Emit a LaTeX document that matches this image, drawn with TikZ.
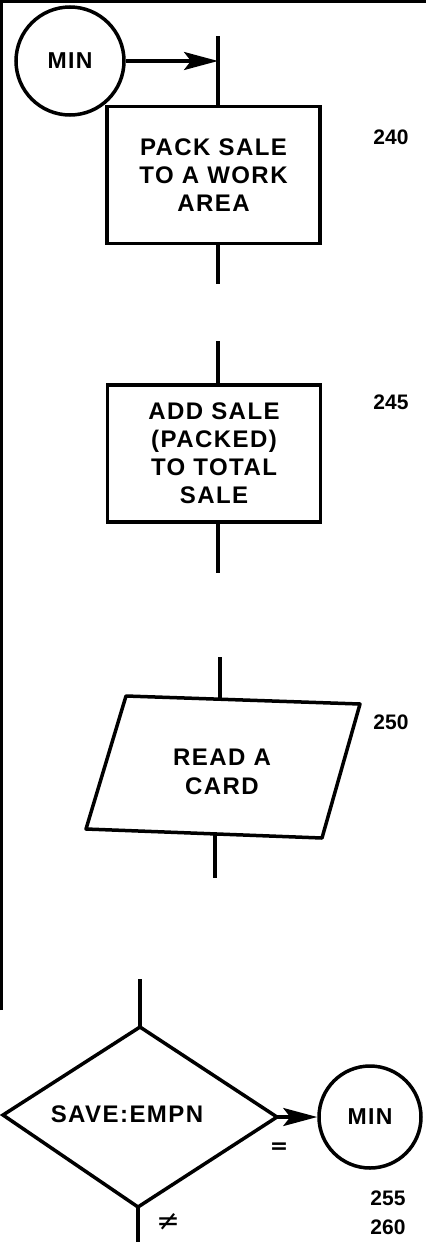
\documentclass[tikz,border=0pt]{standalone}
\usepackage{fontspec}
\setmainfont{Liberation Sans}
\newfontfamily\boxfont{Liberation Sans}[LetterSpace=6]
\newfontfamily\numfont{Liberation Sans}
\newfontfamily\symfont{DejaVu Sans}
\usetikzlibrary{arrows.meta}
\tikzset{
  flow/.style={line width=3.5pt, line cap=butt},
  procbox/.style={draw, line width=3.5pt, minimum width=213pt, minimum height=137pt, align=center, font=\boxfont\bfseries\fontsize{24}{28}\selectfont, inner sep=0pt},
  conn/.style={draw, circle, line width=3.5pt, inner sep=0pt, font=\boxfont\bfseries\fontsize{23}{24}\selectfont},
  txt/.style={align=center, font=\boxfont\bfseries\fontsize{24}{29}\selectfont, inner sep=0pt},
  num/.style={font=\numfont\bfseries\fontsize{21}{24}\selectfont, inner sep=0pt},
  sym/.style={font=\symfont\bfseries\fontsize{22}{24}\selectfont, inner sep=0pt},
  nesym/.style={font=\symfont\fontsize{28}{30}\selectfont, inner sep=0pt},
  arr/.style={line width=3.5pt, -{Stealth[length=34pt,width=18pt,inset=7pt]}},
}
\begin{document}
\begin{tikzpicture}[x=1pt,y=-1pt]
\useasboundingbox (0,0) rectangle (426,1242);
% frame
\draw[line width=3pt] (1.5,1010) -- (1.5,1.5) -- (426,1.5);
% entry connector
\node[conn, minimum size=108pt] (min1) at (70,61) {MIN};
\coordinate (s1a) at (218,36);
\coordinate (j1) at (218,61);
% box 1
\node[procbox] (box1) at (213.5,175) {PACK SALE\\TO A WORK\\AREA};
\coordinate (s1b) at (218,284);
\draw[flow] (s1a) -- (s1a |- box1.north);
\draw[arr] (min1.east) -- (j1);
\draw[flow] (s1b |- box1.south) -- (s1b);
\node[num] (n240) at (391,137) {240};
% box 2
\node[procbox] (box2) at (214,453.5) {ADD SALE\\(PACKED)\\TO TOTAL\\SALE};
\coordinate (s2a) at (218,341);
\coordinate (s2b) at (218,573);
\draw[flow] (s2a) -- (s2a |- box2.north);
\draw[flow] (s2b |- box2.south) -- (s2b);
\node[num] (n245) at (391,402) {245};
% parallelogram
\coordinate (pTL) at (126,696);
\coordinate (pTR) at (360,704);
\coordinate (pBR) at (322,838);
\coordinate (pBL) at (86,829);
\draw[line width=3.5pt, line join=round] (pTL) -- (pTR) -- (pBR) -- (pBL) -- cycle;
\node[txt] (read) at (222,772) {READ A\\CARD};
\coordinate (s3a) at (220,657);
\coordinate (s3at) at (220,700);
\coordinate (s3bt) at (215,834);
\coordinate (s3b) at (215,878);
\draw[flow] (s3a) -- (s3at);
\draw[flow] (s3bt) -- (s3b);
\node[num] (n250) at (391,722) {250};
% diamond
\coordinate (dT) at (140,1027);
\coordinate (dL) at (3,1115);
\coordinate (dR) at (277,1117);
\coordinate (dB) at (138,1207);
\draw[line width=3.5pt, line join=miter] (dT) -- (dR) -- (dB) -- (dL) -- cycle;
\node[txt] (save) at (127,1114) {SAVE:EMPN};
\coordinate (s4a) at (140,979);
\coordinate (s4b) at (138,1242);
\draw[flow] (s4a) -- (dT);
\draw[flow] (dB) -- (s4b);
\node[conn, minimum size=102pt] (min2) at (370,1117) {MIN};
\draw[arr] (dR) -- (min2.west);
\node[sym] (eq) at (279,1148) {=};
\node[nesym] (ne) at (168,1222) {≠};
\node[num] (n255) at (388,1198) {255};
\node[num] (n260) at (388,1227) {260};
\end{tikzpicture}
\end{document}
